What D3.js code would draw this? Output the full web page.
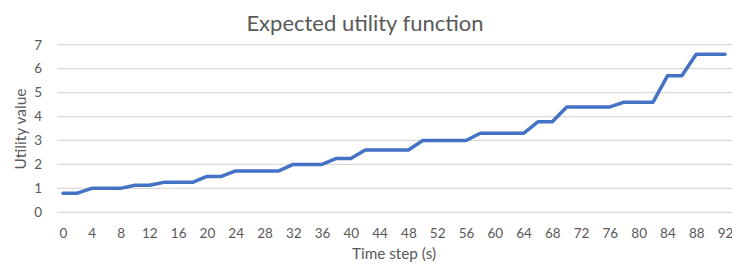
<!DOCTYPE html>
<html><head><meta charset="utf-8">
<script src="https://cdn.jsdelivr.net/npm/d3@7"></script>
<style>body{margin:0;background:#fff}svg{display:block}text{font-family:Lato,"Open Sans",sans-serif}</style>
</head><body><div id="c"></div>
<script>
const timeSteps = d3.range(0, 93, 2);
const utilityValues = [0.8,0.8,1.0,1.0,1.0,1.13,1.13,1.25,1.25,1.25,1.5,1.5,1.73,1.73,1.73,1.73,2.0,2.0,2.0,2.25,2.25,2.6,2.6,2.6,2.6,3.0,3.0,3.0,3.0,3.3,3.3,3.3,3.3,3.78,3.78,4.4,4.4,4.4,4.4,4.6,4.6,4.6,5.7,5.7,6.6,6.6,6.6];
const xTicks = d3.range(0, 93, 4);
const yTicks = [0,1,2,3,4,5,6,7];

const W = 732, H = 265;
const svg = d3.select("#c").append("svg").attr("width", W).attr("height", H);
const x = d3.scaleLinear().domain([0, 92]).range([63, 725]);
const y = d3.scaleLinear().domain([0, 7]).range([212.3, 44.7]);
const gridLeft = 57, gridRight = 732;

svg.append("text").attr("x", 365).attr("y", 30.5).attr("text-anchor", "middle")
  .attr("fill", "#595959").style("font-size", "22px").text("Expected utility function");

svg.append("g").selectAll("line").data(yTicks).join("line")
  .attr("x1", gridLeft).attr("x2", gridRight)
  .attr("y1", d => y(d)).attr("y2", d => y(d))
  .attr("stroke", "#d9d9d9").attr("stroke-width", 1.3);

const yAxis = svg.append("g").attr("transform", `translate(${gridLeft},0)`)
  .call(d3.axisLeft(y).tickValues(yTicks).tickSize(0).tickPadding(15).tickFormat(d3.format("d")));
yAxis.select(".domain").remove();
yAxis.selectAll("text").attr("fill", "#595959").style("font-size", "13.5px").attr("font-family", "Lato,'Open Sans',sans-serif");

const xAxis = svg.append("g").attr("transform", `translate(0,${y(0)})`)
  .call(d3.axisBottom(x).tickValues(xTicks).tickSize(0).tickPadding(16).tickFormat(d3.format("d")));
xAxis.select(".domain").remove();
xAxis.selectAll("text").attr("fill", "#595959").style("font-size", "13.5px").attr("font-family", "Lato,'Open Sans',sans-serif");

svg.append("text").attr("x", 394).attr("y", 258.5).attr("text-anchor", "middle")
  .attr("fill", "#595959").style("font-size", "15.3px").text("Time step (s)");
svg.append("text").attr("transform", "translate(26,129) rotate(-90)").attr("text-anchor", "middle")
  .attr("fill", "#595959").style("font-size", "15.5px").text("Utility value");

const line = d3.line().x((d, i) => x(timeSteps[i])).y(d => y(d));
svg.append("path").datum(utilityValues).attr("d", line)
  .attr("fill", "none").attr("stroke", "#4472C4").attr("stroke-width", 3.5)
  .attr("stroke-linejoin", "round").attr("stroke-linecap", "round");
</script></body></html>
